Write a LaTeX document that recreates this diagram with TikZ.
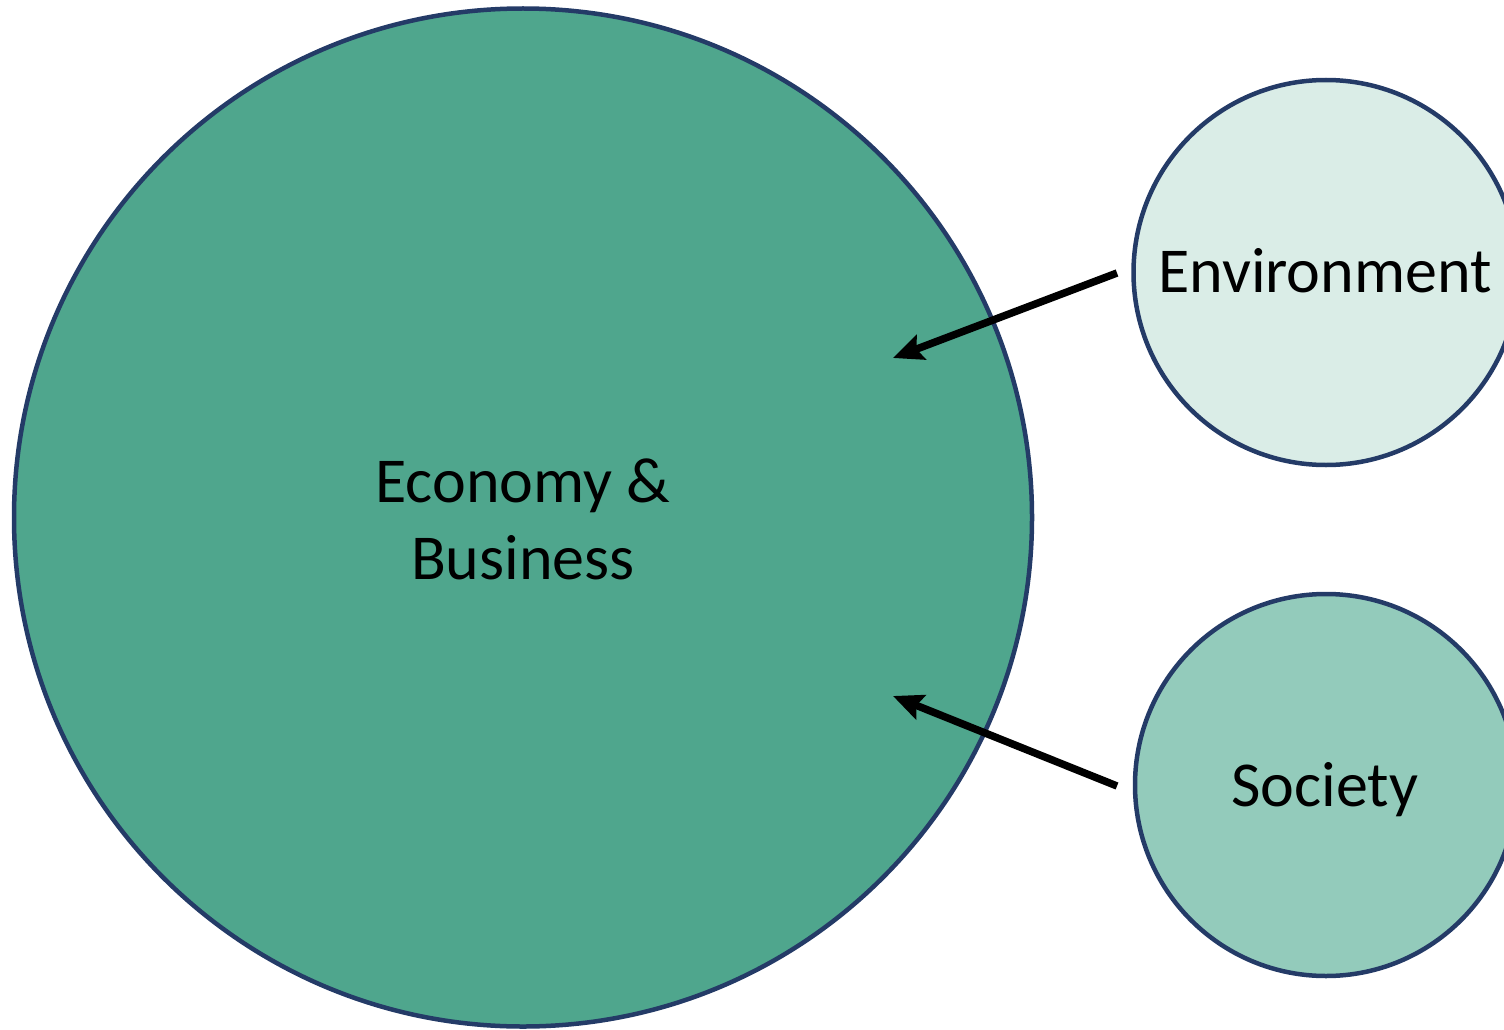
\documentclass[tikz,border=0pt]{standalone}
\usepackage{fontspec}
\setmainfont{Carlito}
\usetikzlibrary{arrows.meta}
\definecolor{ringnavy}{HTML}{243B67}
\definecolor{econfill}{HTML}{4FA68D}
\definecolor{envfill}{HTML}{DAEDE7}
\definecolor{socfill}{HTML}{93CBBB}
\tikzset{
  ring/.style={circle, draw=ringnavy, line width=4.5pt, inner sep=0pt},
  label text/.style={font=\fontsize{64}{77}\selectfont, align=center},
  pointer/.style={line width=7.5pt, -{Stealth[length=30pt,width=26pt,inset=5pt]}}
}
\begin{document}
\begin{tikzpicture}[x=1pt,y=-1pt]
  \useasboundingbox (0,0) rectangle (1504,1030);
  % main sphere
  \node[ring, fill=econfill, minimum size=1018pt] (econ) at (523,517.5) {};
  \node[label text] (econtext) at (523,519) {Economy \&\\Business};
  % outer spheres
  \node[ring, fill=envfill, minimum size=385pt] (env) at (1326,272.5) {};
  \node[label text, anchor=base] (envtext) at (1325,292) {Environment};
  \node[ring, fill=socfill, minimum size=382pt] (soc) at (1326,785) {};
  \node[label text, anchor=base] (soctext) at (1325,806) {Society};
  % arrow ends
  \coordinate (envtail) at (1117,273);
  \coordinate (envtip) at (893,358);
  \coordinate (soctail) at (1117,786);
  \coordinate (soctip) at (893,696);
  \draw[pointer] (envtail) -- (envtip);
  \draw[pointer] (soctail) -- (soctip);
\end{tikzpicture}
\end{document}
